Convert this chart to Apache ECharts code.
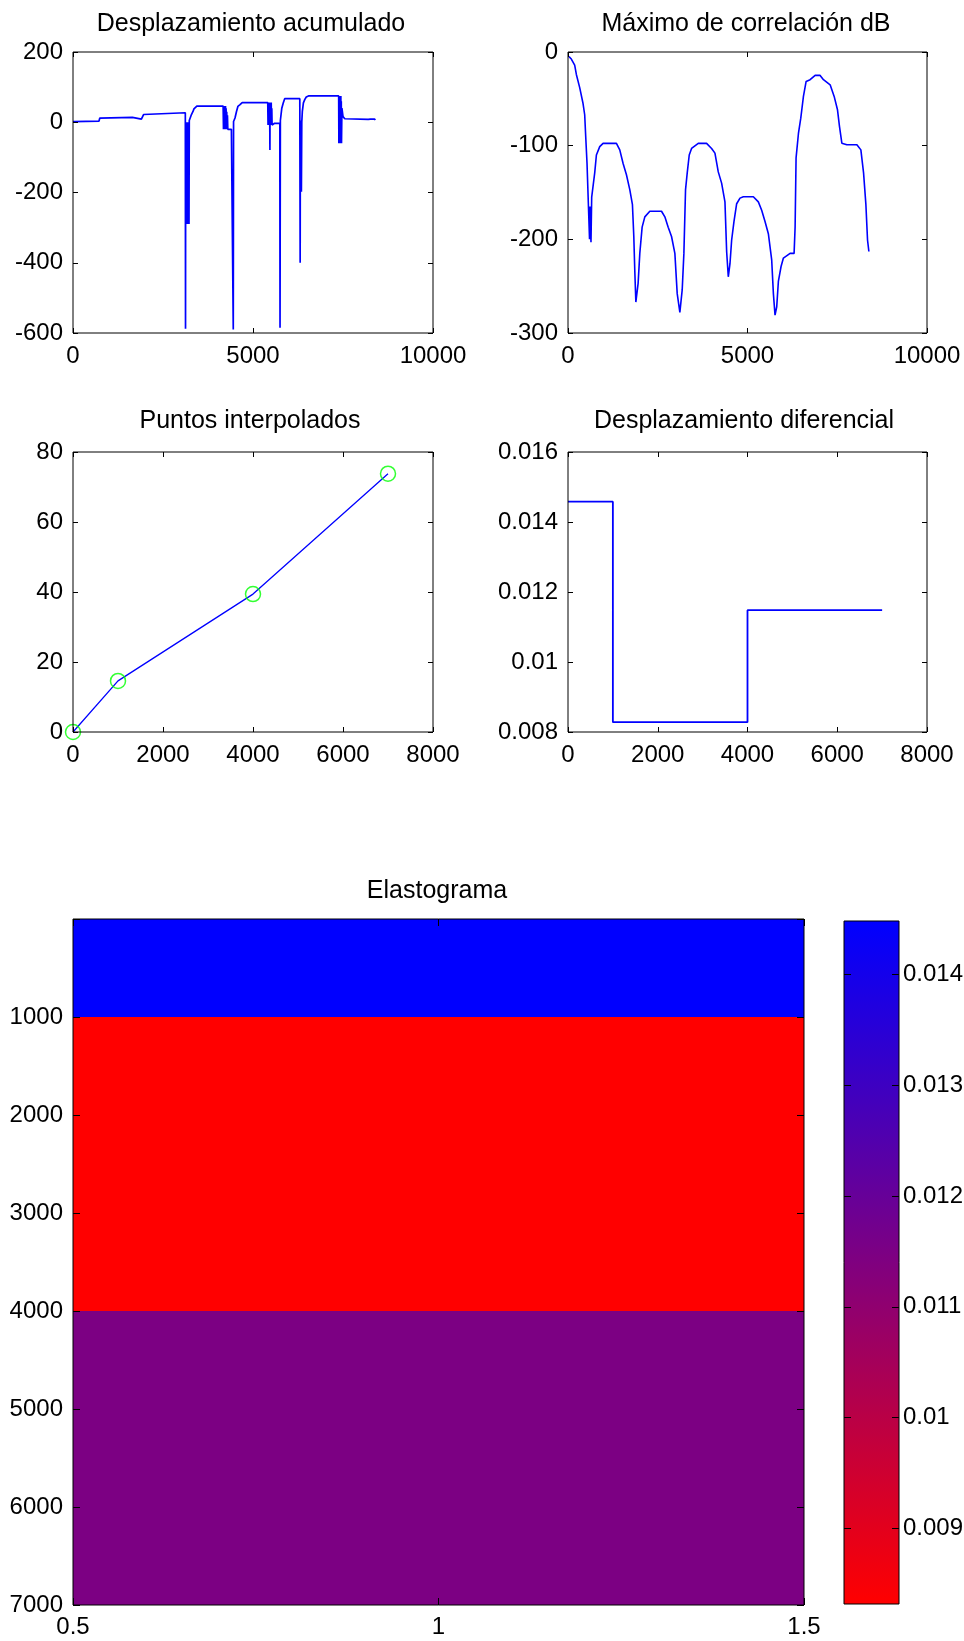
<!DOCTYPE html>
<html>
<head>
<meta charset="utf-8">
<script src="https://cdn.jsdelivr.net/npm/echarts@6/dist/echarts.min.js"></script>
<style>
  html, body { margin: 0; padding: 0; background: #ffffff; }
  #chart { width: 964px; height: 1641px; }
</style>
</head>
<body>
<div id="chart"></div>
<script>
// Accumulated displacement along depth: [sample, displacement]
const accumDisp = [
  [0, 2], [720, 3], [745, 12], [760, 14], [1650, 14], [1670, 9], [1900, 9], [1930, 5], [1960, 22], [2010, 27], [3120, 27],
  [3126, -588], [3130, 0], [3134, -290], [3138, 0], [3142, -290], [3146, 0], [3150, -290], [3154, 0], [3158, -290],
  [3162, 0], [3166, -290], [3170, 0], [3174, -290], [3178, 0], [3182, -290], [3186, 0], [3190, -290], [3194, 0],
  [3198, -290], [3202, 0], [3206, -290], [3210, 0], [3214, -290], [3218, 0], [3222, -290], [3230, 5],
  [3270, 8], [3290, 22], [3330, 30], [3360, 38], [3400, 42], [3440, 46], [4170, 46],
  [4180, -20], [4188, 46], [4196, -20], [4204, 46], [4212, -20], [4220, 46], [4228, -20], [4236, 46], [4244, -20],
  [4252, 40], [4260, -20], [4270, 30], [4280, -20], [4290, 20], [4300, -20],
  [4350, -20], [4400, -20], [4440, -18], [4452, -590], [4460, 2],
  [4500, 12], [4540, 30], [4580, 45], [4640, 50], [4700, 56], [5410, 56],
  [5418, -8], [5426, 56], [5434, -8], [5442, 56], [5450, -8], [5458, 56], [5466, -8], [5470, -79], [5474, 56],
  [5482, -8], [5490, 56], [5498, -8], [5506, 56], [5514, -8], [5522, 40], [5530, -8],
  [5540, -5], [5600, -3], [5745, -3], [5751, -585], [5760, 5],
  [5800, 40], [5840, 55], [5880, 67], [6300, 67],
  [6310, -400], [6316, 5], [6320, -198], [6324, 5], [6328, -198], [6332, 5], [6336, -198], [6340, 5], [6344, -198],
  [6355, 0], [6370, 30], [6400, 55], [6440, 65], [6480, 72], [6540, 75], [7380, 75],
  [7386, -60], [7392, 75], [7398, -60], [7404, 75], [7410, -60], [7416, 75], [7422, -60], [7428, 75], [7434, -60],
  [7440, 75], [7446, -60], [7452, 60], [7458, -60], [7470, 40], [7500, 16], [7550, 10], [7600, 8], [8200, 8],
  [8210, 4], [8220, 9], [8230, 4], [8240, 9], [8250, 4], [8260, 9], [8270, 4], [8280, 9], [8290, 4], [8300, 9],
  [8310, 4], [8320, 9], [8330, 4], [8340, 9], [8350, 4], [8360, 9], [8370, 4], [8380, 9], [8395, 6]
];

// Peak of the cross-correlation in dB: [sample, dB]
const corrPeak = [
  [28, -5], [93, -7.5], [186, -14], [233, -24], [326, -38], [419, -55], [465, -67], [493, -90], [530, -119],
  [567, -162], [600, -200], [615, -165], [640, -203], [660, -155], [698, -153], [744, -129], [791, -110],
  [884, -101], [977, -97.5], [1349, -97.5], [1442, -104.5], [1535, -119], [1628, -131], [1721, -147],
  [1795, -163], [1833, -197], [1860, -233], [1890, -267], [1907, -265], [1925, -267], [1953, -247],
  [2000, -215], [2065, -187], [2140, -176], [2279, -170], [2605, -170], [2698, -176], [2791, -187],
  [2884, -197], [2977, -215], [3042, -258], [3116, -278], [3181, -254], [3228, -215], [3274, -147],
  [3321, -129], [3377, -110], [3442, -103], [3628, -97.5], [3860, -97.5], [4000, -103], [4093, -108],
  [4186, -128], [4279, -140], [4372, -160], [4419, -213], [4465, -240], [4512, -226], [4558, -201],
  [4623, -181], [4698, -162], [4791, -156], [4884, -154.5], [5163, -154.5], [5302, -160], [5395, -169],
  [5488, -181], [5581, -194], [5674, -222], [5721, -258], [5767, -281], [5814, -272], [5860, -245],
  [5935, -229], [6000, -220], [6186, -215], [6298, -215], [6326, -187], [6353, -113], [6419, -87],
  [6484, -70.6], [6558, -47.4], [6633, -31.4], [6744, -29.6], [6884, -25], [7023, -25], [7116, -29.6],
  [7302, -35], [7414, -47.4], [7507, -61.7], [7563, -79.6], [7628, -97.4], [7767, -99], [8047, -99],
  [8158, -104.5], [8233, -129], [8298, -163], [8344, -201], [8381, -213]
];

// Interpolation knots (depth, displacement)
const knotDepth = [0, 1000, 4000, 7000];
const knotDisp = [0, 14.6, 39.4, 73.8];

// Differential displacement of each segment between knots
const strainVals = [0.01458, 0.00828, 0.01148];

// Elastogram lateral extent and colour scale
const elastoX = [0.5, 1.5];
const cbarRange = [0.00832, 0.01448];
const cbarTicks = [0.009, 0.010, 0.011, 0.012, 0.013, 0.014];
const rampColors = ['#ff0000', '#0000ff'];

const titles = [
  'Desplazamiento acumulado',
  'Máximo de correlación dB',
  'Puntos interpolados',
  'Desplazamiento diferencial',
  'Elastograma'
];

const FONT = '"Liberation Sans", Arial, Helvetica, sans-serif';
const BLUE = '#0000ff';

// Subplot boxes (pixels)
const boxes = [
  { left: 73, top: 52, width: 360, height: 281 },
  { left: 568, top: 52, width: 359, height: 281 },
  { left: 73, top: 452, width: 360, height: 280 },
  { left: 568, top: 452, width: 359, height: 280 },
  { left: 73, top: 919, width: 731, height: 686 },
  { left: 844, top: 921, width: 55, height: 683 }
];
const titlePos = [[251, 24], [746, 24], [250, 421], [744, 421], [437, 891]];

const grids = boxes.map(b => Object.assign({
  show: true, borderColor: '#000', borderWidth: 1, backgroundColor: 'transparent',
  containLabel: false, outerBoundsMode: 'none', z: 10
}, b));

const labelStyle = { color: '#000', fontSize: 24, fontFamily: FONT };
const plainNum = v => String(+(+v).toFixed(6));

function axisPair(dim, gridIndex, cfg) {
  const base = {
    gridIndex, type: 'value', min: cfg.min, max: cfg.max, interval: cfg.interval,
    inverse: !!cfg.inverse, z: 10,
    splitLine: { show: false },
    axisLine: { show: false, onZero: false }
  };
  const tick = { show: cfg.tickShow !== false, inside: true, length: cfg.tickLen || 5, lineStyle: { color: '#000', width: 1 } };
  if (cfg.custom) tick.customValues = cfg.custom;
  const label = Object.assign({}, labelStyle, {
    show: cfg.labelShow !== false,
    margin: cfg.margin != null ? cfg.margin : (dim === 'x' ? 11 : 10),
    showMinLabel: true, showMaxLabel: true,
    formatter: cfg.fmt || plainNum
  });
  if (cfg.custom) label.customValues = cfg.custom;
  const main = Object.assign({}, base, {
    position: dim === 'x' ? 'bottom' : (cfg.labelRight ? 'right' : 'left'),
    axisTick: tick, axisLabel: label
  });
  const mirror = Object.assign({}, base, {
    position: dim === 'x' ? 'top' : (cfg.labelRight ? 'left' : 'right'),
    axisTick: Object.assign({}, tick), axisLabel: { show: false }
  });
  return [main, mirror];
}

const xAxes = [].concat(
  axisPair('x', 0, { min: 0, max: 10000, interval: 5000 }),
  axisPair('x', 1, { min: 0, max: 10000, interval: 5000 }),
  axisPair('x', 2, { min: 0, max: 8000, interval: 2000 }),
  axisPair('x', 3, { min: 0, max: 8000, interval: 2000 }),
  axisPair('x', 4, { min: elastoX[0], max: elastoX[1], interval: 0.5, tickLen: 7, margin: 10 }),
  axisPair('x', 5, { min: 0, max: 1, interval: 1, tickShow: false, labelShow: false })
);
const yAxes = [].concat(
  axisPair('y', 0, { min: -600, max: 200, interval: 200 }),
  axisPair('y', 1, { min: -300, max: 0, interval: 100 }),
  axisPair('y', 2, { min: 0, max: 80, interval: 20 }),
  axisPair('y', 3, { min: 0.008, max: 0.016, interval: 0.002 }),
  axisPair('y', 4, { min: 0, max: 7000, interval: 1000, inverse: true, tickLen: 7,
    fmt: v => (v === 0 ? '' : String(v)) }),
  axisPair('y', 5, { min: cbarRange[0], max: cbarRange[1], custom: cbarTicks, labelRight: true,
    tickLen: 7, margin: 4, fmt: v => String(+v.toFixed(3)) })
);

// Step line of the differential displacement, one level per segment
const stepData = knotDepth.map((d, i) => [d, strainVals[Math.min(i, strainVals.length - 1)]]);

// Elastogram bands: [depth start, depth end, value]
const bands = strainVals.map((v, i) => [knotDepth[i], knotDepth[i + 1], v]);

const series = [
  {
    type: 'line', xAxisIndex: 0, yAxisIndex: 0, data: accumDisp, showSymbol: false, symbol: 'none',
    lineStyle: { color: BLUE, width: 1.7 }, animation: false
  },
  {
    type: 'line', xAxisIndex: 2, yAxisIndex: 2, data: corrPeak, showSymbol: false, symbol: 'none',
    lineStyle: { color: BLUE, width: 1.6 }, animation: false
  },
  {
    type: 'line', xAxisIndex: 4, yAxisIndex: 4, data: knotDepth.map((d, i) => [d, knotDisp[i]]),
    showSymbol: false, symbol: 'none', lineStyle: { color: BLUE, width: 1.3 }, animation: false
  },
  {
    type: 'scatter', xAxisIndex: 4, yAxisIndex: 4, data: knotDepth.map((d, i) => [d, knotDisp[i]]),
    symbol: 'circle', symbolSize: 15, clip: false, z: 5,
    itemStyle: { color: 'rgba(0,0,0,0)', borderColor: '#00ff00', borderWidth: 1.5 }, animation: false
  },
  {
    type: 'line', xAxisIndex: 6, yAxisIndex: 6, data: stepData, step: 'end', showSymbol: false, symbol: 'none',
    lineStyle: { color: BLUE, width: 1.8 }, animation: false
  },
  {
    type: 'custom', xAxisIndex: 8, yAxisIndex: 8, data: bands, animation: false,
    encode: { x: -1, y: [0, 1] },
    renderItem: (params, api) => {
      const a = api.coord([elastoX[0], api.value(0)]);
      const b = api.coord([elastoX[1], api.value(1)]);
      return {
        type: 'rect',
        shape: { x: a[0], y: Math.min(a[1], b[1]), width: b[0] - a[0], height: Math.abs(b[1] - a[1]) },
        style: { fill: api.visual('color') }
      };
    }
  },
  {
    type: 'custom', xAxisIndex: 10, yAxisIndex: 10, data: [cbarRange], animation: false,
    encode: { x: -1, y: [0, 1] },
    renderItem: (params, api) => {
      const top = api.coord([0, api.value(1)]);
      const bot = api.coord([1, api.value(0)]);
      return {
        type: 'rect',
        shape: { x: top[0], y: top[1], width: bot[0] - top[0], height: bot[1] - top[1] },
        style: {
          fill: new echarts.graphic.LinearGradient(0, 0, 0, 1, [
            { offset: 0, color: rampColors[1] },
            { offset: 1, color: rampColors[0] }
          ])
        }
      };
    }
  }
];

const option = {
  backgroundColor: '#ffffff',
  animation: false,
  title: titles.map((t, i) => ({
    text: t, left: titlePos[i][0], top: titlePos[i][1], padding: 0,
    textAlign: 'center', textVerticalAlign: 'middle',
    textStyle: { fontSize: 25, fontWeight: 'normal', color: '#000', fontFamily: FONT }
  })),
  grid: grids,
  xAxis: xAxes,
  yAxis: yAxes,
  visualMap: [{
    type: 'continuous', show: false, seriesIndex: 5, dimension: 2,
    min: cbarRange[0], max: cbarRange[1],
    inRange: { color: rampColors }
  }],
  series: series
};

const chart = echarts.init(document.getElementById('chart'), null, { renderer: 'canvas' });
chart.setOption(option);
</script>
</body>
</html>
